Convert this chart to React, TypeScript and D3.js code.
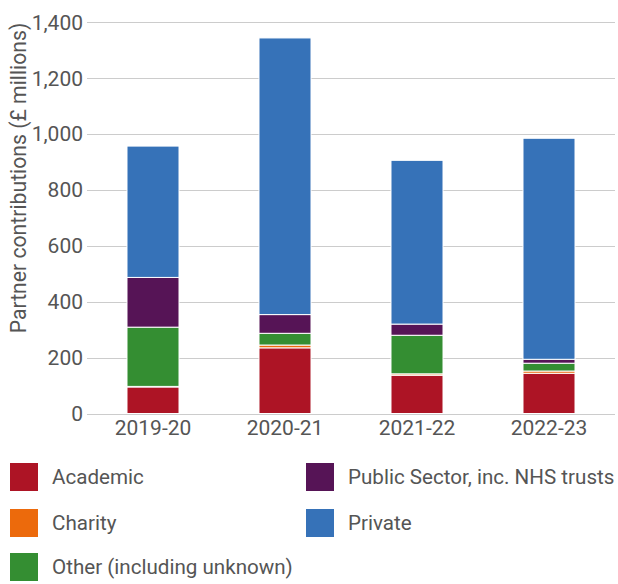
import React from "react";
import * as d3 from "d3";

const categories = ["2019-20", "2020-21", "2021-22", "2022-23"];
const academic = [95, 235, 137, 144];
const charity = [2, 10, 5, 8];
const other = [212, 42, 138, 28];
const publicSector = [178, 67, 40, 14];
const privateSector = [470, 990, 586, 791];
const yTicks = [0, 200, 400, 600, 800, 1000, 1200, 1400];

const seriesNames = ["Academic", "Charity", "Other (including unknown)", "Public Sector, inc. NHS trusts", "Private"];
const seriesValues = [academic, charity, other, publicSector, privateSector];
const seriesColors = ["#AD1425", "#EC6A0C", "#348E32", "#561456", "#3672B8"];

const W = 618;
const H = 584;
const FONT = "Roboto, 'Noto Sans', sans-serif";
const TEXT = "#555555";

export default function App() {
  const x = d3.scaleBand<string>().domain(categories).range([87, 615]).paddingInner(0.606).paddingOuter(0.303);
  const y = d3.scaleLinear().domain([0, 1400]).range([413.5, 22.3]);

  const rows = categories.map((c, i) => {
    const r: any = { cat: c };
    seriesNames.forEach((n, k) => (r[n] = seriesValues[k][i]));
    return r;
  });
  const stack = d3.stack<any>().keys(seriesNames)(rows);
  const fmt = d3.format(",");

  const legendPos = [
    { x: 10, y: 477 },
    { x: 10, y: 523 },
    { x: 10, y: 567 },
    { x: 306, y: 477 },
    { x: 306, y: 523 },
  ];

  return (
    <svg width={W} height={H} style={{ position: "absolute", left: 0, top: 0, display: "block" }} fontFamily={FONT}>
      <rect width={W} height={H} fill="#ffffff" />
      {yTicks.map((t) => (
        <g key={t}>
          <line x1={87} x2={615} y1={Math.round(y(t)) + 0.5} y2={Math.round(y(t)) + 0.5} stroke="#cccccc" strokeWidth={1} />
          <text x={83} y={y(t)} dy="0.35em" textAnchor="end" fontSize={21} fill={TEXT}>
            {fmt(t)}
          </text>
        </g>
      ))}
      {stack.map((s, k) => (
        <g key={s.key} fill={seriesColors[k]}>
          {s.map((d, i) => (
            <rect
              key={i}
              x={x(categories[i])}
              width={x.bandwidth()}
              y={y(d[1])}
              height={Math.max(0, y(d[0]) - y(d[1]))}
              stroke="#ffffff"
              strokeWidth={1}
            />
          ))}
        </g>
      ))}
      {categories.map((c) => (
        <text key={c} x={(x(c) as number) + x.bandwidth() / 2} y={435} textAnchor="middle" fontSize={21} fill={TEXT}>
          {c}
        </text>
      ))}
      <text
        transform={`translate(26,178) rotate(-90)`}
        textAnchor="middle"
        fontSize={21.2}
        fill={TEXT}
      >
        Partner contributions (£ millions)
      </text>
      {seriesNames.map((n, k) => (
        <g key={n} transform={`translate(${legendPos[k].x},${legendPos[k].y})`}>
          <rect x={0} y={-14} width={28} height={28} fill={seriesColors[k]} />
          <text x={42} y={0} dy="0.35em" fontSize={20.6} fill={TEXT}>
            {n}
          </text>
        </g>
      ))}
    </svg>
  );
}
